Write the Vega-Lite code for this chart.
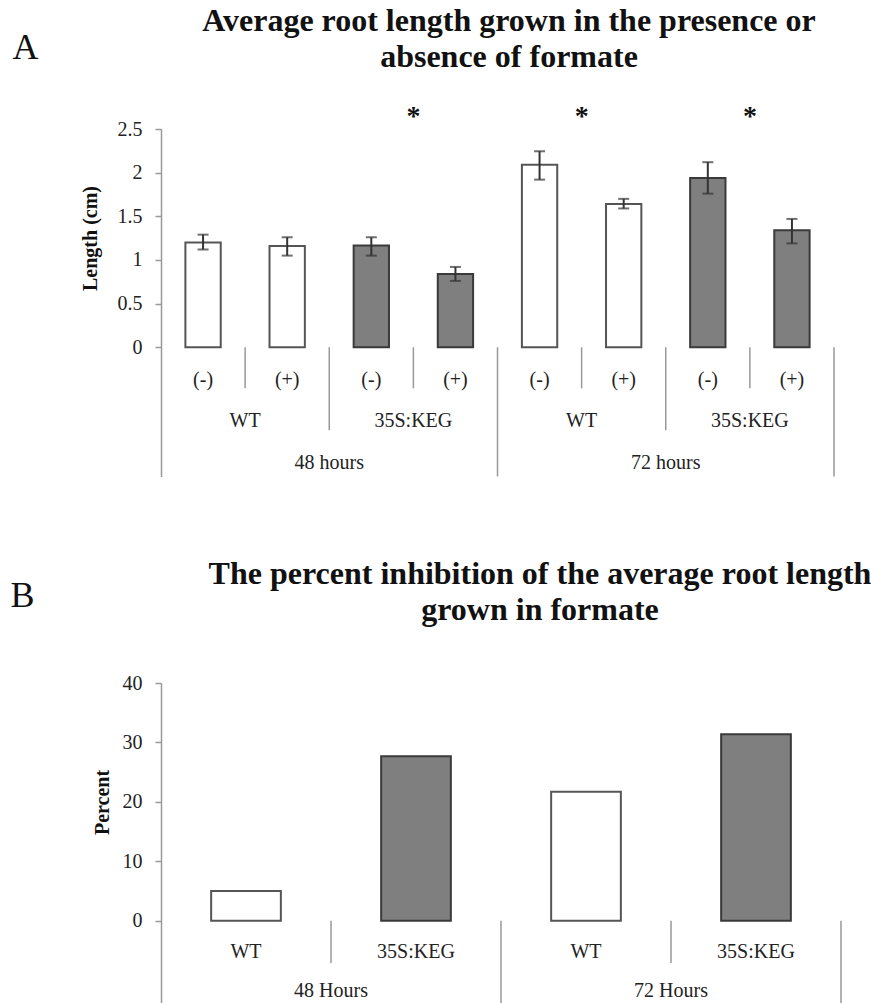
{
  "$schema": "https://vega.github.io/schema/vega-lite/v6.json",
  "padding": {"left": 10, "top": 5, "right": 5, "bottom": 0},
  "background": "white",
  "config": {"view": {"stroke": null}, "font": "Liberation Serif", "axis": {"grid": false}},
  "spacing": 80,
  "vconcat": [
    {
      "width": 673,
      "height": 347.5,
      "title": {
        "text": ["Average root length grown in the presence or", "absence of formate"],
        "font": "Liberation Serif", "fontSize": 32, "fontWeight": "bold", "lineHeight": 36,
        "color": "#111", "offset": 0, "dx": 11.5, "dy": 45
      },
      "layer": [
        {
          "data": {"values": [
            {"cell": 1, "time": "48 hours", "genotype": "WT", "formate": "(-)", "length": 1.20, "lo": 1.12, "hi": 1.29},
            {"cell": 2, "time": "48 hours", "genotype": "WT", "formate": "(+)", "length": 1.16, "lo": 1.05, "hi": 1.26},
            {"cell": 3, "time": "48 hours", "genotype": "35S:KEG", "formate": "(-)", "length": 1.165, "lo": 1.05, "hi": 1.26},
            {"cell": 4, "time": "48 hours", "genotype": "35S:KEG", "formate": "(+)", "length": 0.84, "lo": 0.76, "hi": 0.92},
            {"cell": 5, "time": "72 hours", "genotype": "WT", "formate": "(-)", "length": 2.09, "lo": 1.92, "hi": 2.245},
            {"cell": 6, "time": "72 hours", "genotype": "WT", "formate": "(+)", "length": 1.64, "lo": 1.59, "hi": 1.70},
            {"cell": 7, "time": "72 hours", "genotype": "35S:KEG", "formate": "(-)", "length": 1.94, "lo": 1.76, "hi": 2.12},
            {"cell": 8, "time": "72 hours", "genotype": "35S:KEG", "formate": "(+)", "length": 1.34, "lo": 1.19, "hi": 1.47}
          ]},
          "layer": [
            {
              "mark": {"type": "bar", "width": {"band": 0.42}, "strokeWidth": 2},
              "encoding": {
                "x": {
                  "field": "cell", "type": "ordinal",
                  "scale": {"domain": [1, 2, 3, 4, 5, 6, 7, 8], "paddingInner": 0, "paddingOuter": 0},
                  "axis": {
                    "orient": "top", "domain": false, "ticks": false, "labels": false,
                    "title": "A", "titleX": -149, "titleY": -71, "titleAlign": "left",
                    "titleBaseline": "alphabetic", "titleAngle": 0, "titleFontSize": 36,
                    "titleFontWeight": "normal", "titleColor": "#111", "titleFont": "Liberation Serif"
                  }
                },
                "y": {
                  "field": "length", "type": "quantitative",
                  "scale": {"domain": [-1.48, 2.5], "nice": false, "zero": false},
                  "axis": {
                    "values": [0, 0.5, 1, 1.5, 2, 2.5], "format": ".1~f",
                    "title": "Length (cm)", "titleFont": "Liberation Serif", "titleFontWeight": "bold",
                    "titleFontSize": 20, "titleColor": "#111", "titleY": 109, "titlePadding": 17,
                    "labelFont": "Liberation Serif", "labelFontSize": 20, "labelColor": "#222",
                    "labelPadding": 13, "tickSize": 6, "tickColor": "#999", "tickWidth": 1.5,
                    "domainColor": "#999", "domainWidth": 1.5, "labelOverlap": false
                  }
                },
                "fill": {"field": "genotype", "type": "nominal", "scale": {"domain": ["WT", "35S:KEG"], "range": ["#ffffff", "#7f7f7f"]}, "legend": null},
                "stroke": {"field": "genotype", "type": "nominal", "scale": {"domain": ["WT", "35S:KEG"], "range": ["#555555", "#3a3a3a"]}, "legend": null}
              }
            },
            {
              "mark": {"type": "rule", "color": "#333", "strokeWidth": 2},
              "encoding": {"x": {"field": "cell", "type": "ordinal"}, "y": {"field": "lo", "type": "quantitative"}, "y2": {"field": "hi"}}
            },
            {
              "mark": {"type": "tick", "orient": "horizontal", "color": "#333", "size": 11, "thickness": 2},
              "encoding": {"x": {"field": "cell", "type": "ordinal"}, "y": {"field": "lo", "type": "quantitative"}}
            },
            {
              "mark": {"type": "tick", "orient": "horizontal", "color": "#333", "size": 11, "thickness": 2},
              "encoding": {"x": {"field": "cell", "type": "ordinal"}, "y": {"field": "hi", "type": "quantitative"}}
            },
            {
              "mark": {"type": "text", "fontSize": 20, "color": "#222", "baseline": "middle"},
              "encoding": {"x": {"field": "cell", "type": "ordinal"}, "y": {"datum": -0.37}, "text": {"field": "formate"}}
            }
          ]
        },
        {
          "data": {"values": [
            {"cell": 2, "time": "48 hours", "genotype": "WT", "sig": ""},
            {"cell": 4, "time": "48 hours", "genotype": "35S:KEG", "sig": "*"},
            {"cell": 6, "time": "72 hours", "genotype": "WT", "sig": "*"},
            {"cell": 8, "time": "72 hours", "genotype": "35S:KEG", "sig": "*"}
          ]},
          "layer": [
            {
              "mark": {"type": "rule", "color": "#999", "strokeWidth": 1.5},
              "encoding": {"x": {"field": "cell", "type": "ordinal", "bandPosition": 0}, "y": {"datum": 0}, "y2": {"datum": -0.47}}
            },
            {
              "mark": {"type": "text", "fontSize": 20, "color": "#222", "baseline": "middle"},
              "encoding": {"x": {"field": "cell", "type": "ordinal", "bandPosition": 0}, "y": {"datum": -0.84}, "text": {"field": "genotype"}}
            },
            {
              "mark": {"type": "text", "fontSize": 28, "fontWeight": "bold", "color": "#111", "baseline": "middle"},
              "encoding": {"x": {"field": "cell", "type": "ordinal", "bandPosition": 0}, "y": {"datum": 2.64}, "text": {"field": "sig"}}
            }
          ]
        },
        {
          "data": {"values": [
            {"cell": 3, "time": "48 hours"},
            {"cell": 7, "time": "72 hours"}
          ]},
          "layer": [
            {
              "mark": {"type": "rule", "color": "#999", "strokeWidth": 1.5},
              "encoding": {"x": {"field": "cell", "type": "ordinal", "bandPosition": 0}, "y": {"datum": 0}, "y2": {"datum": -0.95}}
            },
            {
              "mark": {"type": "text", "fontSize": 20, "color": "#222", "baseline": "middle"},
              "encoding": {"x": {"field": "cell", "type": "ordinal", "bandPosition": 0}, "y": {"datum": -1.33}, "text": {"field": "time"}}
            }
          ]
        },
        {
          "data": {"values": [{"cell": 5, "edge": 0}]},
          "mark": {"type": "rule", "color": "#999", "strokeWidth": 1.5},
          "encoding": {"x": {"field": "cell", "type": "ordinal", "bandPosition": 0}, "y": {"datum": 0}, "y2": {"datum": -1.48}}
        },
        {
          "data": {"values": [{"cell": 8, "edge": 1}]},
          "mark": {"type": "rule", "color": "#999", "strokeWidth": 1.5},
          "encoding": {"x": {"field": "cell", "type": "ordinal", "bandPosition": 1}, "y": {"datum": 0}, "y2": {"datum": -1.48}}
        },
        {
          "mark": {"type": "rule", "color": "#999", "strokeWidth": 1.5},
          "encoding": {"y": {"datum": 0}}
        }
      ]
    },
    {
      "width": 680,
      "height": 330,
      "title": {
        "text": ["The percent inhibition of the average root length", "grown in formate"],
        "font": "Liberation Serif", "fontSize": 32, "fontWeight": "bold", "lineHeight": 36,
        "color": "#111", "offset": 0, "dx": 39, "dy": 50
      },
      "layer": [
        {
          "data": {"values": [
            {"cell": 1, "time": "48 Hours", "genotype": "WT", "percent": 5.0},
            {"cell": 2, "time": "48 Hours", "genotype": "35S:KEG", "percent": 27.7},
            {"cell": 3, "time": "72 Hours", "genotype": "WT", "percent": 21.7},
            {"cell": 4, "time": "72 Hours", "genotype": "35S:KEG", "percent": 31.4}
          ]},
          "layer": [
            {
              "mark": {"type": "bar", "width": {"band": 0.41}, "strokeWidth": 2},
              "encoding": {
                "x": {
                  "field": "cell", "type": "ordinal",
                  "scale": {"domain": [1, 2, 3, 4], "paddingInner": 0, "paddingOuter": 0},
                  "axis": {
                    "orient": "top", "domain": false, "ticks": false, "labels": false,
                    "title": "B", "titleX": -151, "titleY": -77, "titleAlign": "left",
                    "titleBaseline": "alphabetic", "titleAngle": 0, "titleFontSize": 36,
                    "titleFontWeight": "normal", "titleColor": "#111", "titleFont": "Liberation Serif"
                  }
                },
                "y": {
                  "field": "percent", "type": "quantitative",
                  "scale": {"domain": [-15.5, 40], "nice": false, "zero": false},
                  "axis": {
                    "values": [0, 10, 20, 30, 40],
                    "title": "Percent", "titleFont": "Liberation Serif", "titleFontWeight": "bold",
                    "titleFontSize": 20, "titleColor": "#111", "titleY": 119, "titlePadding": 10,
                    "labelFont": "Liberation Serif", "labelFontSize": 20, "labelColor": "#222",
                    "labelPadding": 13, "tickSize": 6, "tickColor": "#999", "tickWidth": 1.5,
                    "domainColor": "#999", "domainWidth": 1.5, "labelOverlap": false
                  }
                },
                "fill": {"field": "genotype", "type": "nominal", "scale": {"domain": ["WT", "35S:KEG"], "range": ["#ffffff", "#7f7f7f"]}, "legend": null},
                "stroke": {"field": "genotype", "type": "nominal", "scale": {"domain": ["WT", "35S:KEG"], "range": ["#333333", "#2a2a2a"]}, "legend": null}
              }
            },
            {
              "mark": {"type": "text", "fontSize": 20, "color": "#222", "baseline": "middle"},
              "encoding": {"x": {"field": "cell", "type": "ordinal"}, "y": {"datum": -5.2}, "text": {"field": "genotype"}}
            }
          ]
        },
        {
          "data": {"values": [
            {"cell": 2, "time": "48 Hours"},
            {"cell": 4, "time": "72 Hours"}
          ]},
          "layer": [
            {
              "mark": {"type": "rule", "color": "#999", "strokeWidth": 1.5},
              "encoding": {"x": {"field": "cell", "type": "ordinal", "bandPosition": 0}, "y": {"datum": 0}, "y2": {"datum": -7.1}}
            },
            {
              "mark": {"type": "text", "fontSize": 20, "color": "#222", "baseline": "middle"},
              "encoding": {"x": {"field": "cell", "type": "ordinal", "bandPosition": 0}, "y": {"datum": -11.8}, "text": {"field": "time"}}
            }
          ]
        },
        {
          "data": {"values": [{"cell": 3, "edge": 0}]},
          "mark": {"type": "rule", "color": "#999", "strokeWidth": 1.5},
          "encoding": {"x": {"field": "cell", "type": "ordinal", "bandPosition": 0}, "y": {"datum": 0}, "y2": {"datum": -15.5}}
        },
        {
          "data": {"values": [{"cell": 4, "edge": 1}]},
          "mark": {"type": "rule", "color": "#999", "strokeWidth": 1.5},
          "encoding": {"x": {"field": "cell", "type": "ordinal", "bandPosition": 1}, "y": {"datum": 0}, "y2": {"datum": -15.5}}
        },
        {
          "mark": {"type": "rule", "color": "#999", "strokeWidth": 1.5},
          "encoding": {"y": {"datum": 0}}
        }
      ]
    }
  ]
}
